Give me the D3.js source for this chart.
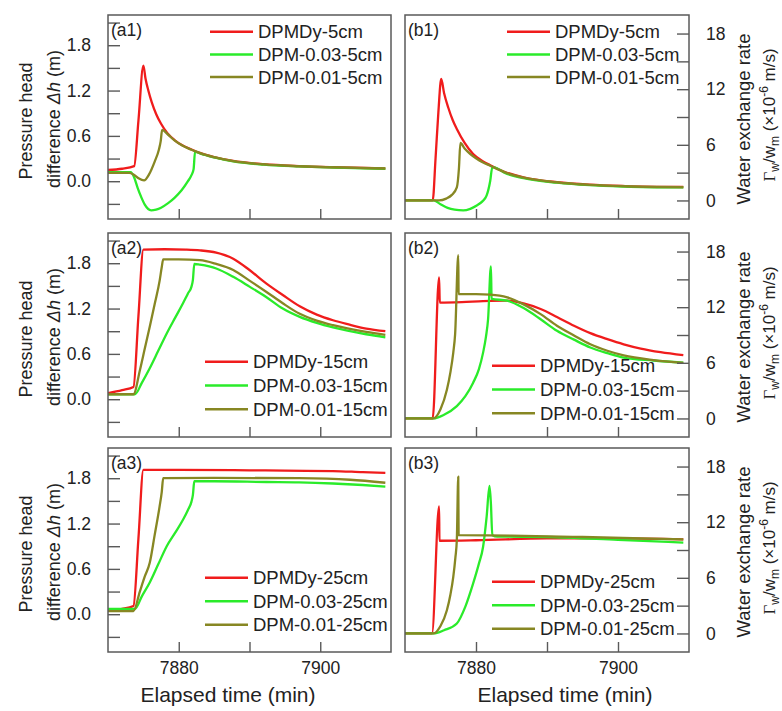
<!DOCTYPE html>
<html>
<head>
<meta charset="utf-8">
<script src="https://cdn.jsdelivr.net/npm/d3@7"></script>
<style>
  body { margin: 0; background: #fff; }
  svg { font-family: "Liberation Sans", Arial, sans-serif; }
</style>
</head>
<body>
<div id="chart"></div>
<script>
// ---- data (time in min, dh in m, rate in 1e-6 m/s) ----
var names5  = ["DPMDy-5cm", "DPM-0.03-5cm", "DPM-0.01-5cm"];
var names15 = ["DPMDy-15cm", "DPM-0.03-15cm", "DPM-0.01-15cm"];
var names25 = ["DPMDy-25cm", "DPM-0.03-25cm", "DPM-0.01-25cm"];

var xTicks = [7880, 7890, 7900];
var xLabels = [7880, 7900];
var dhTicks = [-0.3, 0, 0.3, 0.6, 0.9, 1.2, 1.5, 1.8, 2.1];
var dhLabels = [0, 0.6, 1.2, 1.8];
var rateTicks = [0, 3, 6, 9, 12, 15, 18];
var rateLabels = [0, 6, 12, 18];

var a1Dy = [[7870,0.15],[7872,0.165],[7873.7,0.2],[7874.3,0.8],[7875.0,1.53],[7875.3,1.36],[7875.7,1.2],[7876.2,1.04],[7876.8,0.89],[7877.5,0.76],[7878.4,0.635],[7879.4,0.545],[7880.5,0.475],[7881.8,0.42],[7883,0.375],[7885,0.32],[7887.7,0.268],[7892,0.225],[7897,0.2],[7902,0.185],[7909.2,0.17]];
var a1P03 = [[7870,0.12],[7873.2,0.12],[7873.7,0.05],[7874.2,-0.09],[7874.7,-0.21],[7875.2,-0.31],[7876.1,-0.385],[7876.8,-0.375],[7877.5,-0.35],[7878.5,-0.29],[7879.4,-0.22],[7880.4,-0.12],[7881.3,0.0],[7881.8,0.08],[7882.1,0.16],[7882.3,0.39],[7883.2,0.36],[7885,0.315],[7887.7,0.262],[7892,0.22],[7897,0.196],[7902,0.181],[7909.2,0.165]];
var a1P01 = [[7870,0.11],[7873,0.11],[7873.6,0.09],[7874.3,0.04],[7875.1,0.01],[7875.8,0.09],[7876.6,0.26],[7877.2,0.42],[7877.45,0.53],[7877.65,0.68],[7878.4,0.625],[7879.4,0.54],[7880.5,0.472],[7881.8,0.417],[7883,0.372],[7885,0.318],[7887.7,0.265],[7892,0.222],[7897,0.198],[7902,0.183],[7909.2,0.168]];

var b1Dy = [[7870,0],[7873.9,0],[7874.3,4.5],[7874.7,9.5],[7875.1,13.1],[7875.5,11.6],[7876.1,10.0],[7876.7,8.7],[7877.3,7.7],[7878.4,6.2],[7879.6,5.0],[7881,4.2],[7882,3.8],[7884,3.1],[7886.7,2.5],[7891.4,1.97],[7896,1.7],[7901,1.55],[7909.2,1.45]];
var b1P03 = [[7870,0],[7874,0],[7875,-0.4],[7876,-0.8],[7877,-1.0],[7878.2,-1.08],[7879.2,-0.9],[7880.1,-0.55],[7880.9,-0.1],[7881.5,0.54],[7882,2.1],[7882.3,3.6],[7883,3.45],[7884,3.0],[7886.7,2.4],[7891.4,1.92],[7896,1.65],[7901,1.5],[7909.2,1.4]];
var b1P01 = [[7870,0],[7874.8,0],[7875.8,0.2],[7876.6,0.6],[7877.3,1.4],[7877.6,3.5],[7877.8,6.2],[7878.4,5.6],[7879.2,5.0],[7880.1,4.5],[7881,4.1],[7882,3.75],[7884,3.05],[7886.7,2.45],[7891.4,1.95],[7896,1.68],[7901,1.53],[7909.2,1.43]];

var a2Dy = [[7870,0.08],[7872,0.12],[7873.6,0.163],[7874.3,1.1],[7875.0,1.98],[7878,1.985],[7881,1.98],[7883,1.97],[7885.3,1.94],[7887.7,1.86],[7890,1.71],[7892.4,1.53],[7894.7,1.38],[7897.1,1.23],[7899.5,1.12],[7901.8,1.045],[7904,0.99],[7906.5,0.935],[7909.2,0.9]];
var a2P03 = [[7870,0.066],[7873.8,0.066],[7874.8,0.22],[7875.9,0.41],[7877.1,0.64],[7878.3,0.87],[7879.5,1.08],[7880.6,1.27],[7881.3,1.4],[7881.8,1.49],[7882.0,1.58],[7882.2,1.79],[7883,1.78],[7885.3,1.73],[7887.7,1.62],[7890,1.49],[7892.4,1.35],[7894.7,1.2],[7897.1,1.09],[7899.5,1.01],[7901.8,0.95],[7906.5,0.86],[7909.2,0.82]];
var a2P01 = [[7870,0.066],[7873.6,0.066],[7874.5,0.38],[7875.2,0.67],[7875.9,0.96],[7876.6,1.26],[7877.3,1.57],[7877.6,1.75],[7877.8,1.85],[7880,1.85],[7883,1.84],[7885.3,1.79],[7887.7,1.71],[7890,1.57],[7892.4,1.42],[7894.7,1.27],[7897.1,1.13],[7899.5,1.04],[7901.8,0.98],[7906.5,0.89],[7909.2,0.85]];

var b2Dy = [[7870,0],[7873.9,0],[7874.8,15.2],[7874.9,12.5],[7878,12.55],[7881,12.65],[7884.4,12.7],[7886.7,12.4],[7889.1,11.8],[7891.4,10.95],[7893.8,10.0],[7896.1,9.2],[7898.5,8.55],[7900.8,8.0],[7903.2,7.54],[7906,7.15],[7909.2,6.82]];
var b2P03 = [[7870,0],[7874,0],[7875.5,0.4],[7877.3,1.33],[7878.5,2.4],[7879.6,3.86],[7880.4,5.3],[7881,7.1],[7881.4,8.8],[7881.7,10.7],[7882.1,16.4],[7882.2,12.9],[7884.4,12.7],[7886.7,11.9],[7889.1,10.7],[7891.4,9.45],[7893.8,8.5],[7896.1,7.65],[7898.5,7.05],[7900.8,6.57],[7905,6.25],[7909.2,6.03]];
var b2P01 = [[7870,0],[7874,0],[7875,1.0],[7875.9,3.1],[7876.4,5.0],[7876.8,7.1],[7877.06,9.1],[7877.5,17.6],[7877.55,13.4],[7880,13.4],[7882,13.35],[7884.4,13.06],[7886.7,12.3],[7889.1,11.25],[7891.4,10.0],[7893.8,8.95],[7896.1,8.0],[7898.5,7.3],[7900.8,6.8],[7905,6.3],[7909.2,6.0]];

var a3Dy = [[7870,0.05],[7872,0.07],[7873.6,0.11],[7874.3,1.0],[7875.0,1.91],[7880,1.91],[7890,1.905],[7895,1.9],[7901.8,1.895],[7906,1.88],[7909.2,1.87]];
var a3P03 = [[7870,0.07],[7873.8,0.07],[7874.8,0.24],[7875.9,0.42],[7877.1,0.66],[7878.3,0.9],[7879.5,1.08],[7880.6,1.25],[7881.3,1.38],[7881.8,1.49],[7882,1.58],[7882.2,1.76],[7885,1.76],[7892.4,1.75],[7897,1.745],[7901.8,1.73],[7906,1.71],[7909.2,1.69]];
var a3P01 = [[7870,0.04],[7873.6,0.04],[7874.5,0.3],[7875.2,0.5],[7875.9,0.68],[7876.6,1.05],[7877.3,1.43],[7877.6,1.62],[7877.8,1.8],[7885,1.805],[7897,1.8],[7904.2,1.78],[7909.2,1.74]];

var b3Dy = [[7870,0],[7873.8,0],[7874.8,13.7],[7874.85,10.0],[7880,10.05],[7890,10.25],[7900,10.25],[7909.2,10.15]];
var b3P03 = [[7870,0],[7874,0],[7875.5,0.35],[7877.3,1.08],[7878.5,2.9],[7879.6,5.4],[7880.4,7.5],[7881,9.35],[7881.5,12.6],[7881.9,15.9],[7882.1,14.0],[7882.3,10.6],[7883,10.45],[7890,10.4],[7900,10.1],[7909.2,9.8]];
var b3P01 = [[7870,0],[7874,0],[7875,0.8],[7875.9,2.5],[7876.4,4.2],[7876.8,6.1],[7877.1,8.2],[7877.3,10.1],[7877.5,16.9],[7877.55,10.6],[7885,10.55],[7895,10.4],[7909.2,10.15]];

var colors = ["#f01c1c", "#2aeb2a", "#878723"];

// ---- layout ----
var W = 782, H = 711;
var colX = [[108, 391], [405, 689]];
var rowY = [[15, 219], [233, 437], [448, 652]];

var panels = [
  {label: "(a1)", col: 0, row: 0, kind: "dh",   series: [a1Dy, a1P03, a1P01], names: names5,  leg: [102, 16.7, 22.7]},
  {label: "(b1)", col: 1, row: 0, kind: "rate", series: [b1Dy, b1P03, b1P01], names: names5,  leg: [102, 16.7, 22.7]},
  {label: "(a2)", col: 0, row: 1, kind: "dh",   series: [a2Dy, a2P03, a2P01], names: names15, leg: [97, 128.7, 23.8]},
  {label: "(b2)", col: 1, row: 1, kind: "rate", series: [b2Dy, b2P03, b2P01], names: names15, leg: [87, 132.7, 23.8]},
  {label: "(a3)", col: 0, row: 2, kind: "dh",   series: [a3Dy, a3P03, a3P01], names: names25, leg: [97, 129.7, 23.5]},
  {label: "(b3)", col: 1, row: 2, kind: "rate", series: [b3Dy, b3P03, b3P01], names: names25, leg: [87, 133.7, 23.5]}
];

var svg = d3.select("#chart").append("svg")
    .attr("width", W)
    .attr("height", H);

panels.forEach(function(p){
  var x0 = colX[p.col][0], x1 = colX[p.col][1];
  var y0 = rowY[p.row][0], y1 = rowY[p.row][1];

  var x = d3.scaleLinear().domain([7870, 7910]).range([x0, x1]);
  var y = p.kind == "dh"
      ? d3.scaleLinear().domain([-0.5, 2.2]).range([y1, y0])
      : d3.scaleLinear().domain([-2, 20]).range([y1, y0]);

  var g = svg.append("g");

  // clip so nothing leaks past the frame
  var clipId = "clip" + p.col + p.row;
  g.append("clipPath").attr("id", clipId)
    .append("rect").attr("x", x0).attr("y", y0).attr("width", x1 - x0).attr("height", y1 - y0);

  var line = d3.line()
      .x(function(d){ return x(d[0]); })
      .y(function(d){ return y(d[1]); })
      .curve(d3.curveMonotoneX);

  g.append("g").attr("clip-path", "url(#" + clipId + ")")
    .selectAll("path")
    .data(p.series)
    .enter()
    .append("path")
    .attr("d", line)
    .attr("fill", "none")
    .attr("stroke", function(d, i){ return colors[i]; })
    .attr("stroke-width", 2.3)
    .attr("stroke-linejoin", "round");

  // bottom axis, ticks pointing in
  var xAxis = d3.axisBottom(x).tickValues(xTicks).tickSize(-10).tickPadding(10)
      .tickFormat(function(d){ return (p.row == 2 && xLabels.indexOf(d) >= 0) ? d : ""; });
  g.append("g").attr("class", "axis").attr("transform", "translate(0," + y1 + ")").call(xAxis);

  if (p.kind == "dh") {
    var yAxis = d3.axisLeft(y).tickValues(dhTicks).tickSize(-12).tickPadding(17)
        .tickFormat(function(d){ return dhLabels.indexOf(d) >= 0 ? d3.format(".1f")(d) : ""; });
    g.append("g").attr("class", "axis").attr("transform", "translate(" + x0 + ",0)").call(yAxis);
  } else {
    var rAxis = d3.axisRight(y).tickValues(rateTicks).tickSize(-12).tickPadding(17)
        .tickFormat(function(d){ return rateLabels.indexOf(d) >= 0 ? d : ""; });
    g.append("g").attr("class", "axis").attr("transform", "translate(" + x1 + ",0)").call(rAxis);
  }

  // frame
  g.append("rect")
    .attr("x", x0).attr("y", y0)
    .attr("width", x1 - x0).attr("height", y1 - y0)
    .attr("fill", "none")
    .attr("stroke", "#5a5a5a")
    .attr("stroke-width", 1.5);

  g.append("text")
    .attr("x", x0 + 3).attr("y", y0 + 21)
    .attr("font-size", 17.5)
    .attr("fill", "#222")
    .text(p.label);

  // legend
  var lg = g.append("g").attr("transform", "translate(" + (x0 + p.leg[0]) + "," + (y0 + p.leg[1]) + ")");
  p.names.forEach(function(n, i){
    lg.append("line")
      .attr("x1", 0).attr("x2", 43)
      .attr("y1", i * p.leg[2]).attr("y2", i * p.leg[2])
      .attr("stroke", colors[i]).attr("stroke-width", 2.5);
    lg.append("text")
      .attr("x", 48).attr("y", i * p.leg[2])
      .attr("dy", "0.36em")
      .attr("font-size", 18.5)
      .attr("fill", "#222")
      .text(n);
  });
});

svg.selectAll(".axis path.domain").remove();
svg.selectAll(".axis line").attr("stroke", "#5a5a5a").attr("stroke-width", 1.4);
svg.selectAll(".axis text").attr("font-size", 17.5).attr("fill", "#222")
   .attr("font-family", "'Liberation Sans', Arial, sans-serif");

// axis titles
[0, 1, 2].forEach(function(r){
  var yc = (rowY[r][0] + rowY[r][1]) / 2;
  svg.append("text")
    .attr("transform", "translate(32," + (yc + 4) + ") rotate(-90)")
    .attr("text-anchor", "middle").attr("font-size", 18).attr("fill", "#222")
    .text("Pressure head");
  var t2 = svg.append("text")
    .attr("transform", "translate(60," + (yc + 2) + ") rotate(-90)")
    .attr("text-anchor", "middle").attr("font-size", 18).attr("fill", "#222");
  t2.append("tspan").text("difference ");
  t2.append("tspan").attr("font-style", "italic").text("\u0394h");
  t2.append("tspan").text(" (m)");

  svg.append("text")
    .attr("transform", "translate(750," + (yc + 2) + ") rotate(-90)")
    .attr("text-anchor", "middle").attr("font-size", 18.5).attr("fill", "#222")
    .text("Water exchange rate");
  var t4 = svg.append("text")
    .attr("transform", "translate(775," + (yc - 2) + ") rotate(-90)")
    .attr("text-anchor", "middle").attr("font-size", 17).attr("fill", "#222");
  t4.append("tspan").attr("font-family", "'Liberation Serif', serif").text("\u0393");
  t4.append("tspan").attr("font-size", 12).attr("dy", 4).text("w");
  t4.append("tspan").attr("dy", -4).text("/w");
  t4.append("tspan").attr("font-size", 12).attr("dy", 4).text("m");
  t4.append("tspan").attr("dy", -4).text(" (\u00d710");
  t4.append("tspan").attr("font-size", 12).attr("dy", -7).text("-6");
  t4.append("tspan").attr("dy", 7).text(" m/s)");
});

svg.append("text").attr("x", 228).attr("y", 702).attr("text-anchor", "middle")
  .attr("font-size", 21).attr("fill", "#222").text("Elapsed time (min)");
svg.append("text").attr("x", 565).attr("y", 702).attr("text-anchor", "middle")
  .attr("font-size", 21).attr("fill", "#222").text("Elapsed time (min)");
</script>
</body>
</html>
